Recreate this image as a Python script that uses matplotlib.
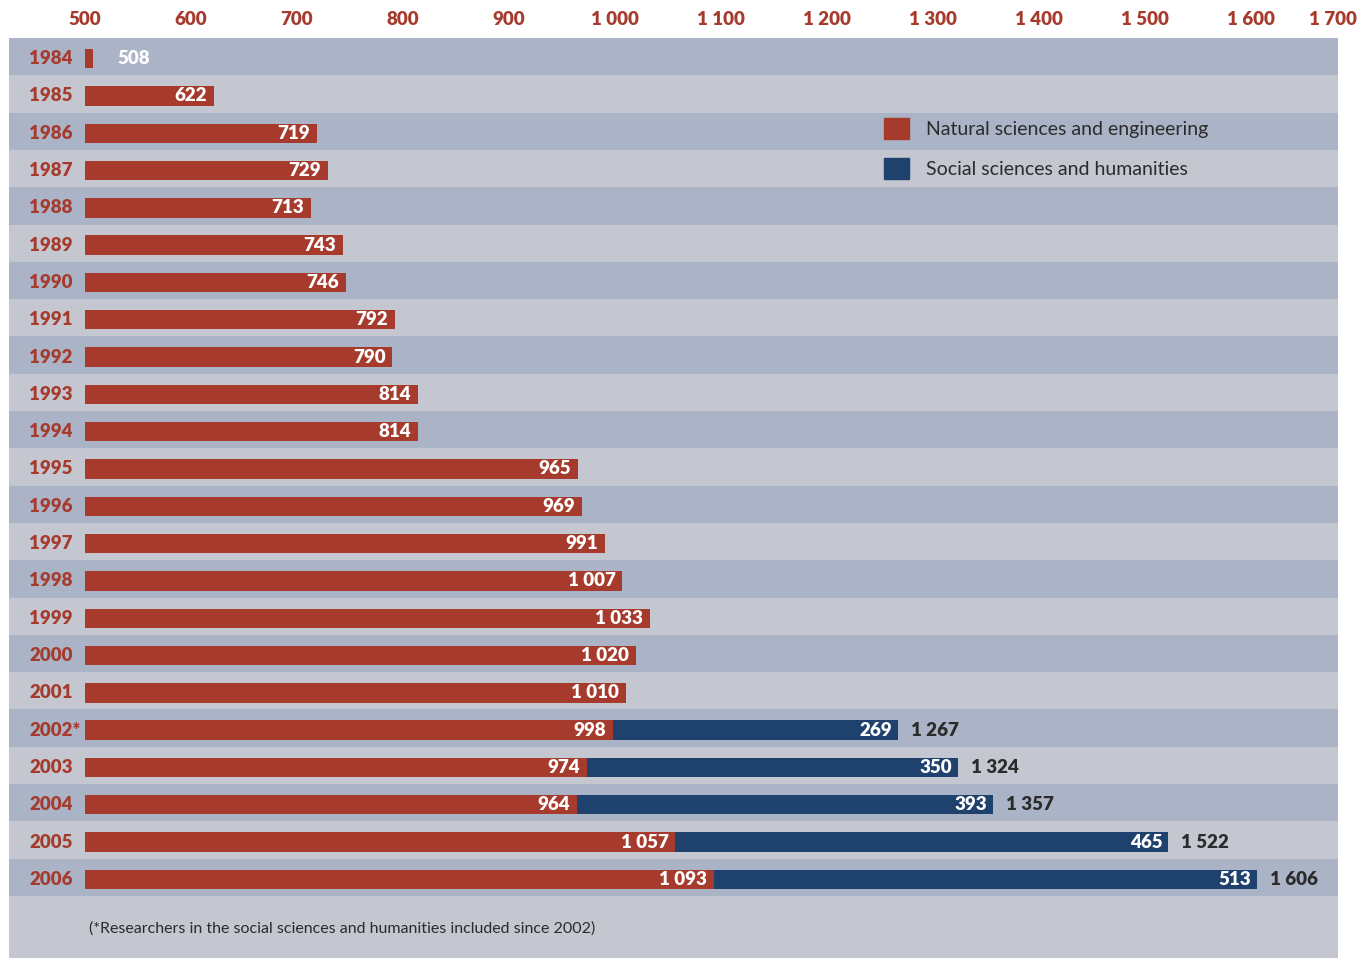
import matplotlib
matplotlib.use("Agg")
import matplotlib.pyplot as plt
from matplotlib.patches import Patch

# =========================
# Data
# =========================
years = ["1984", "1985", "1986", "1987", "1988", "1989", "1990", "1991",
         "1992", "1993", "1994", "1995", "1996", "1997", "1998", "1999",
         "2000", "2001", "2002*", "2003", "2004", "2005", "2006"]
natural = [508, 622, 719, 729, 713, 743, 746, 792, 790, 814, 814, 965,
           969, 991, 1007, 1033, 1020, 1010, 998, 974, 964, 1057, 1093]
social = [0, 0, 0, 0, 0, 0, 0, 0, 0, 0, 0, 0,
          0, 0, 0, 0, 0, 0, 269, 350, 393, 465, 513]
ticks = [500, 600, 700, 800, 900, 1000, 1100, 1200, 1300, 1400, 1500, 1600, 1700]
legend_labels = ["Natural sciences and engineering", "Social sciences and humanities"]
footnote = "(*Researchers in the social sciences and humanities included since 2002)"

RED = "#a63b2d"
BLUE = "#1f416e"
DARK = "#aab4c6"
LIGHT = "#c4c7d0"
TXT = "#2b2b2b"

plt.rcParams['font.family'] = ['Lato', 'DejaVu Sans']

def fmt(v):
    return f"{v:,}".replace(",", " ")

# =========================
# Figure
# =========================
W, H = 1366, 958
fig = plt.figure(figsize=(W / 100, H / 100), dpi=100)
ax = fig.add_axes([9 / W, 0, (1338 - 9) / W, (958 - 38) / H])

px = 1.06  # pixels per unit
row = 37.3  # pixels per row
ax.set_xlim(500 - (85 - 9) / px, 500 + (1338 - 85) / px)
n = len(years)
ax.set_ylim(n - 0.5 + 62 / row, -0.5)
ax.axis('off')

# stripes
for i in range(n):
    ax.axhspan(i - 0.5, i + 0.5, color=DARK if i % 2 == 0 else LIGHT, lw=0, zorder=0)
ax.axhspan(n - 0.5, n - 0.5 + 62 / row, color=LIGHT, lw=0, zorder=0)

# bars
base = 500
red_w = [v - base for v in natural]
yb = [i + 2 / row for i in range(n)]
ax.barh(yb, red_w, left=base, height=0.52, color=RED, zorder=2)
ax.barh(yb, social, left=natural, height=0.52, color=BLUE, zorder=2)

bold = dict(fontsize=13.5, fontweight='heavy', va='center')
for i, (y, nat, soc) in enumerate(zip(years, natural, social)):
    yy = yb[i]
    ax.text(20 / 1329, yy, y, transform=ax.get_yaxis_transform(),
            color=RED, ha='left', **bold)
    if nat - base < 30:
        ax.annotate(fmt(nat), (nat, yy), xytext=(24, 0), textcoords='offset pixels',
                    color='white', ha='left', **bold)
    else:
        ax.annotate(fmt(nat), (nat, yy), xytext=(-7, 0), textcoords='offset pixels',
                    color='white', ha='right', **bold)
    if soc > 0:
        tot = nat + soc
        ax.annotate(fmt(soc), (tot, yy), xytext=(-6, 0), textcoords='offset pixels',
                    color='white', ha='right', **bold)
        ax.annotate(fmt(tot), (tot, yy), xytext=(13, 0), textcoords='offset pixels',
                    color=TXT, ha='left', fontsize=13.5, fontweight='heavy', va='center')

# top tick labels
for t in ticks:
    ax.text(t, 1 + 19 / 920, fmt(t), transform=ax.get_xaxis_transform(),
            color=RED, fontsize=13.5, fontweight='heavy', va='center',
            ha='right' if t == ticks[-1] else 'center', clip_on=False)

# legend
handles = [Patch(color=RED), Patch(color=BLUE)]
fig.legend(handles, legend_labels, loc='upper left',
           bbox_to_anchor=(884 / W, (H - 118) / H), frameon=False,
           fontsize=14, handlelength=1.3, handleheight=1.3,
           handletextpad=0.85, labelspacing=0.95, borderpad=0, borderaxespad=0,
           labelcolor=TXT)

# footnote
ax.text(80 / 1329, n - 0.5 + 33 / row, footnote, transform=ax.get_yaxis_transform(),
        color=TXT, fontsize=11.5, va='center', ha='left')

plt.savefig("out.png", dpi=100)
plt.close()
